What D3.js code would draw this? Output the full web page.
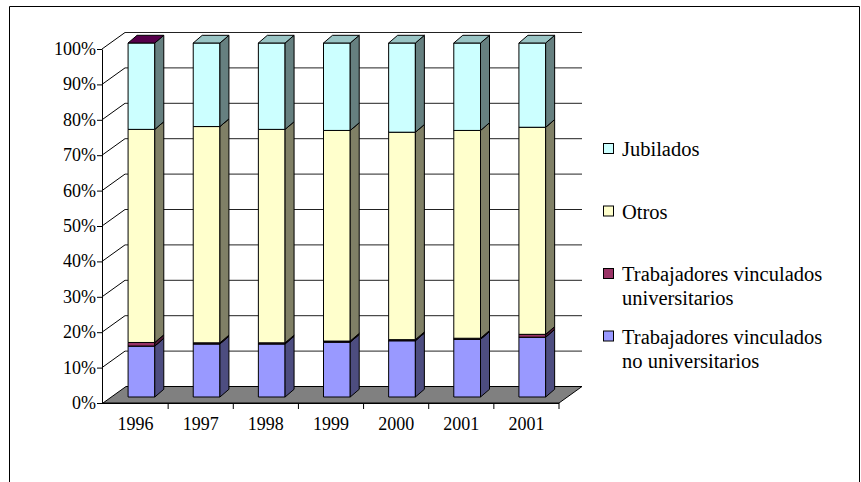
<!DOCTYPE html>
<html>
<head>
<meta charset="utf-8">
<script src="https://cdn.jsdelivr.net/npm/d3@7"></script>
<style>
  body { margin: 0; background: #fff; }
</style>
</head>
<body>
<div id="chart"></div>
<script>
// categories (the last year is repeated in the original sheet)
var years = ["1996", "1997", "1998", "1999", "2000", "2001", "2001"];

// series values in % of each column
var noUniversitarios = [14.4, 15.0, 15.0, 15.5, 15.9, 16.3, 16.9];
var universitarios = [1.0, 0.3, 0.3, 0.3, 0.3, 0.3, 0.8];
var otros = [60.2, 61.1, 60.3, 59.5, 58.6, 58.7, 58.5];
var jubilados = [24.4, 23.6, 24.4, 24.7, 25.2, 24.7, 23.8];

var yTicks = [0, 10, 20, 30, 40, 50, 60, 70, 80, 90, 100];

// stacking order from bottom to top
var series = [
    { name: "Trabajadores vinculados no universitarios", values: noUniversitarios, front: "#9999FF", side: "#4D4D80", top: "#7373BF" },
    { name: "Trabajadores vinculados universitarios", values: universitarios, front: "#993366", side: "#4D1A33", top: "#55004A" },
    { name: "Otros", values: otros, front: "#FFFFCC", side: "#808066", top: "#BFBF99" },
    { name: "Jubilados", values: jubilados, front: "#CCFFFF", side: "#668080", top: "#99C4C4" }
];

// legend text, top entry first
var legendLines = [
    ["Jubilados"],
    ["Otros"],
    ["Trabajadores vinculados", "universitarios"],
    ["Trabajadores vinculados", "no universitarios"]
];
var legendColors = ["#CCFFFF", "#FFFFCC", "#993366", "#9999FF"];

var FONT = "'Liberation Serif', 'Times New Roman', 'DejaVu Serif', serif";

var W = 861, H = 482;
var depth = { x: 23, y: -16.5 };      // floor / wall depth
var barDepth = { x: 9, y: -7.7 };     // column depth
var barShift = { x: 0, y: -6 };       // column front face sits behind the axis plane

var svg = d3.select("#chart").append("svg")
    .attr("width", W)
    .attr("height", H);

// chart area frame (bottom cut off in the original)
svg.append("path")
    .attr("d", "M9.5,490V6.5H859.5V490")
    .attr("fill", "none")
    .attr("stroke", "#000")
    .attr("stroke-width", 1);

var x = d3.scaleBand()
    .domain(d3.range(years.length))
    .range([103, 559])
    .paddingInner(0)
    .paddingOuter(0);

var y = d3.scaleLinear()
    .domain([0, 100])
    .range([403, 49]);

var x0 = x.range()[0], x1 = x.range()[1];

// floor
svg.append("path")
    .attr("d", "M" + x0 + "," + y(0) + "L" + x1 + "," + y(0) +
        "L" + (x1 + depth.x) + "," + (y(0) + depth.y) +
        "L" + (x0 + depth.x) + "," + (y(0) + depth.y) + "Z")
    .attr("fill", "#808080")
    .attr("stroke", "#000")
    .attr("stroke-width", 1);

// gridlines on back wall + diagonals on side wall
var grid = svg.append("g");
yTicks.filter(function (d) { return d > 0; }).forEach(function (d) {
    grid.append("line")
        .attr("x1", x0 - 1 + depth.x).attr("x2", x1 + depth.x)
        .attr("y1", y(d) + depth.y).attr("y2", y(d) + depth.y)
        .attr("stroke", "#222")
        .attr("stroke-width", 1);
    grid.append("line")
        .attr("x1", x0 - 1).attr("x2", x0 - 1 + depth.x)
        .attr("y1", y(d)).attr("y2", y(d) + depth.y)
        .attr("stroke", "#000")
        .attr("stroke-width", 1);
});

// y axis
svg.append("g")
    .attr("transform", "translate(" + (x0 - 1) + ",0)")
    .call(d3.axisLeft(y)
        .tickValues(yTicks)
        .tickFormat(function (d) { return d + "%"; })
        .tickSize(5)
        .tickSizeOuter(0)
        .tickPadding(1))
    .call(function (g) {
        g.attr("font-family", null).attr("font-size", null);
        g.select(".domain").attr("stroke", "#000");
        g.selectAll("line").attr("stroke", "#000");
        g.selectAll("text")
            .style("font-family", FONT)
            .style("font-size", "18px")
            .attr("fill", "#000")
            .attr("dy", "0.3em");
    });

// x axis: labels centred in bands, ticks on band boundaries
var xAxis = svg.append("g")
    .attr("transform", "translate(0," + y(0) + ")")
    .call(d3.axisBottom(x)
        .tickFormat(function (i) { return years[i]; })
        .tickSize(0)
        .tickPadding(14))
    .call(function (g) {
        g.attr("font-family", null).attr("font-size", null);
        g.select(".domain").attr("stroke", "#000").attr("d", "M" + (x0 - 1) + ",0.5H" + x1);
        g.selectAll("text")
            .style("font-family", FONT)
            .style("font-size", "18px")
            .attr("fill", "#000");
    });

xAxis.selectAll(".bound")
    .data(d3.range(years.length))
    .enter().append("line")
    .attr("class", "bound")
    .attr("x1", function (i) { return x(i) + x.bandwidth(); })
    .attr("x2", function (i) { return x(i) + x.bandwidth(); })
    .attr("y1", 0).attr("y2", 6)
    .attr("stroke", "#000");

// 3D stacked columns
var stackData = years.map(function (yr, i) {
    var total = d3.sum(series, function (s) { return s.values[i]; });
    var acc = 0;
    return series.map(function (s) {
        var v = s.values[i] / total * 100;
        var seg = { s: s, y0: acc, y1: acc + v };
        acc += v;
        return seg;
    });
});

var barOff = 0.385, barW = 0.41;
var bars = svg.append("g");

stackData.forEach(function (segs, i) {
    var L = x(i) + x.bandwidth() * barOff + barShift.x;
    var R = L + x.bandwidth() * barW;
    var g = bars.append("g");
    segs.forEach(function (seg, k) {
        var yb = y(seg.y0) + barShift.y;
        var yt = y(seg.y1) + barShift.y;
        // front face
        g.append("path")
            .attr("d", "M" + L + "," + yb + "H" + R + "V" + yt + "H" + L + "Z")
            .attr("fill", seg.s.front)
            .attr("stroke", "#000")
            .attr("stroke-width", 1)
            .attr("stroke-linejoin", "round");
        // side face
        g.append("path")
            .attr("d", "M" + R + "," + yb + "L" + (R + barDepth.x) + "," + (yb + barDepth.y) +
                "L" + (R + barDepth.x) + "," + (yt + barDepth.y) + "L" + R + "," + yt + "Z")
            .attr("fill", seg.s.side)
            .attr("stroke", "#000")
            .attr("stroke-width", 1)
            .attr("stroke-linejoin", "round");
        // top face
        var topColor = seg.s.top;
        if (k === segs.length - 1 && i === 0) topColor = series[1].top; // quirk of the 1996 column
        g.append("path")
            .attr("d", "M" + L + "," + yt + "H" + R + "L" + (R + barDepth.x) + "," + (yt + barDepth.y) +
                "H" + (L + barDepth.x) + "Z")
            .attr("fill", topColor)
            .attr("stroke", "#000")
            .attr("stroke-width", 1)
            .attr("stroke-linejoin", "round");
    });
});

// legend
var legendBase = [156, 218.5, 281, 343.5];
var legend = svg.append("g");
legendLines.forEach(function (lines, i) {
    legend.append("rect")
        .attr("x", 603.5)
        .attr("y", legendBase[i] - 12.5)
        .attr("width", 10)
        .attr("height", 10)
        .attr("fill", legendColors[i])
        .attr("stroke", "#000")
        .attr("stroke-width", 1);
    lines.forEach(function (t, j) {
        legend.append("text")
            .attr("x", 622)
            .attr("y", legendBase[i] + j * 24)
            .style("font-family", FONT)
            .style("font-size", "20.5px")
            .attr("fill", "#000")
            .text(t);
    });
});
</script>
</body>
</html>
